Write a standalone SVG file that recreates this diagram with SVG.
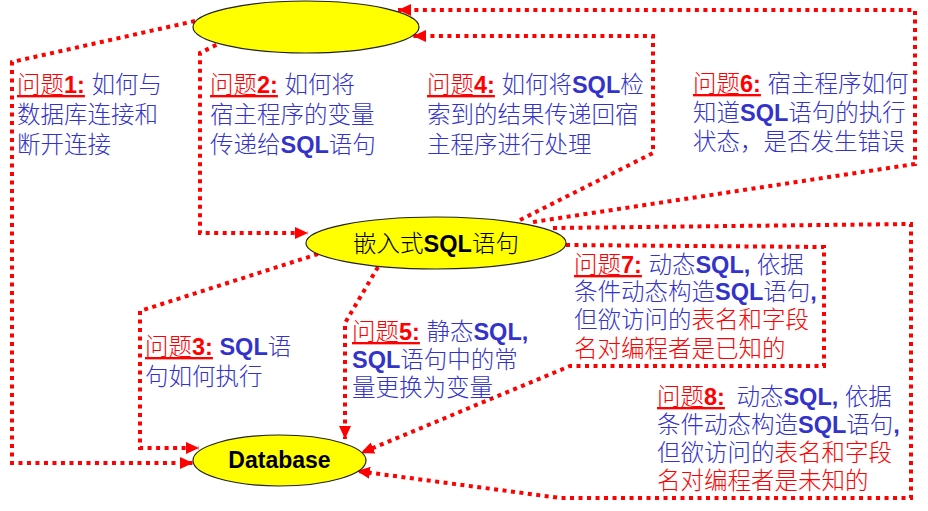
<svg xmlns="http://www.w3.org/2000/svg" width="928" height="511" viewBox="0 0 928 511">
<style>
.node{fill:#FFFF00;stroke:#222;stroke-width:1.2}
.conn{fill:none;stroke:#FF0000;stroke-width:4;stroke-dasharray:4 4.5;marker-end:url(#arr)}
.t{font-family:'Liberation Sans','Noto Sans CJK SC',sans-serif;font-size:23.5px;font-weight:300;fill:#3333CC}
.k{font-family:'Liberation Sans','Noto Sans CJK SC',sans-serif;font-size:23.5px;font-weight:300;fill:#000}
.r{fill:#FF0000}
.q{fill:#FF0000;text-decoration:underline}
.b{font-weight:bold}
</style>
<defs>
<marker id="arr" markerUnits="userSpaceOnUse" markerWidth="13" markerHeight="12" refX="13" refY="6" orient="auto">
<path d="M0,0 L13,6 L0,12 Z" fill="#FF0000"/>
</marker>
</defs>
<rect width="928" height="511" fill="#fff"/>
<g id="connectors">
<polyline id="c1" class="conn" points="195,21 12,62 12,463 193,463"/>
<polyline id="c2" class="conn" points="224,41 200,53 200,233 308,233"/>
<polyline id="c3" class="conn" points="318,254 140,311 140,448 199,448"/>
<polyline id="c4" class="conn" points="520,220 653,153 653,36 413,36"/>
<polyline id="c5" class="conn" points="378,267 345,323 345,439"/>
<polyline id="c6" class="conn" points="533,222 915,164 915,10 398,10"/>
<polyline id="c7" class="conn" points="566,245 824,247 824,366 570,366 361,453"/>
<polyline id="c8" class="conn" points="553,228 911,224 911,498 560,498 357,471"/>
</g>
<g id="host">
<ellipse class="node" cx="306" cy="27" rx="113" ry="26"/>
</g>
<g id="embedded">
<ellipse class="node" cx="436" cy="243" rx="130" ry="26"/>
<text class="k" x="436" y="252" text-anchor="middle">嵌入式<tspan class="b">SQL</tspan>语句</text>
</g>
<g id="database">
<ellipse class="node" cx="279.5" cy="460.5" rx="86.5" ry="25.5"/>
<text class="k b" x="279.5" y="468" text-anchor="middle" style="font-size:23px">Database</text>
</g>
<g id="labels">
<g id="q1">
<text class="t" x="17" y="93"><tspan class="q">问题<tspan class="b">1:</tspan></tspan> 如何与</text>
<text class="t" x="17" y="123">数据库连接和</text>
<text class="t" x="17" y="153">断开连接</text>
</g>
<g id="q2">
<text class="t" x="210" y="93"><tspan class="q">问题<tspan class="b">2:</tspan></tspan> 如何将</text>
<text class="t" x="210" y="123">宿主程序的变量</text>
<text class="t" x="210" y="153">传递给<tspan class="b">SQL</tspan>语句</text>
</g>
<g id="q4">
<text class="t" x="427" y="93"><tspan class="q">问题<tspan class="b">4:</tspan></tspan> 如何将<tspan class="b">SQL</tspan>检</text>
<text class="t" x="427" y="123">索到的结果传递回宿</text>
<text class="t" x="427" y="153">主程序进行处理</text>
</g>
<g id="q6">
<text class="t" x="693" y="92"><tspan class="q">问题<tspan class="b">6:</tspan></tspan> 宿主程序如何</text>
<text class="t" x="693" y="121">知道<tspan class="b">SQL</tspan>语句的执行</text>
<text class="t" x="693" y="150">状态，是否发生错误</text>
</g>
<g id="q3">
<text class="t" x="145" y="355"><tspan class="q">问题<tspan class="b">3:</tspan></tspan> <tspan class="b">SQL</tspan>语</text>
<text class="t" x="145" y="385">句如何执行</text>
</g>
<g id="q5">
<text class="t" x="352" y="340"><tspan class="q">问题<tspan class="b">5:</tspan></tspan> 静态<tspan class="b">SQL,</tspan></text>
<text class="t" x="352" y="368"><tspan class="b">SQL</tspan>语句中的常</text>
<text class="t" x="352" y="396">量更换为变量</text>
</g>
<g id="q7">
<text class="t" x="574" y="273"><tspan class="q">问题<tspan class="b">7:</tspan></tspan> 动态<tspan class="b">SQL,</tspan> 依据</text>
<text class="t" x="574" y="300">条件动态构造<tspan class="b">SQL</tspan>语句<tspan class="b">,</tspan></text>
<text class="t" x="574" y="328">但欲访问的<tspan class="r">表名和字段</tspan></text>
<text class="t r" x="574" y="357">名对编程者是已知的</text>
</g>
<g id="q8">
<text class="t" x="657" y="405"><tspan class="q">问题<tspan class="b">8:</tspan></tspan> <tspan dx="5">动态</tspan><tspan class="b">SQL,</tspan> 依据</text>
<text class="t" x="657" y="433">条件动态构造<tspan class="b">SQL</tspan>语句<tspan class="b">,</tspan></text>
<text class="t" x="657" y="461">但欲访问的<tspan class="r">表名和字段</tspan></text>
<text class="t r" x="657" y="489">名对编程者是未知的</text>
</g>
</g>
</svg>
